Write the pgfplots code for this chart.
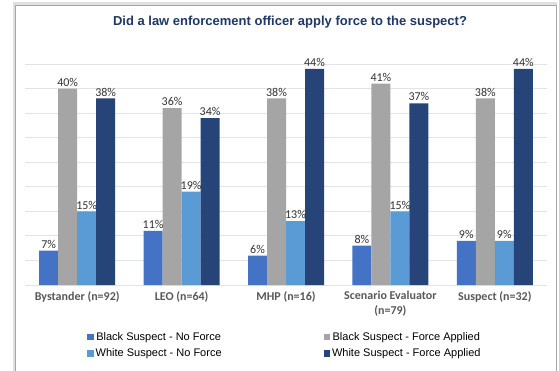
\documentclass[border=0pt]{standalone}
\usepackage{fontspec}
\setmainfont{Carlito}
\newfontfamily\arial{Liberation Sans}
\usepackage{pgfplots}
\pgfplotsset{compat=1.18}
\definecolor{cA}{HTML}{4472C4}
\definecolor{cB}{HTML}{A5A5A5}
\definecolor{cC}{HTML}{5B9BD5}
\definecolor{cD}{HTML}{264478}
\definecolor{titlec}{HTML}{1F3864}
\definecolor{tickc}{HTML}{595959}
\definecolor{gridc}{HTML}{E3E3E3}
\begin{document}
\begin{tikzpicture}[x=1pt,y=1pt]
\path[use as bounding box] (0,0) rectangle (559,370);
\fill[white] (0,0) rectangle (559,370);
\draw[black!12, line width=3pt] (14,-10) -- (14,366) -- (557,366);
\draw[black!35, line width=0.8pt] (15.5,-10) rectangle (556,364.5);
\node[font=\arial\bfseries\fontsize{13}{15}\selectfont, text=titlec] at (290,348) {Did a law enforcement officer apply force to the suspect?};
\begin{axis}[
  at={(25pt,85pt)}, anchor=south west,
  scale only axis, width=522pt, height=221pt,
  ybar=0pt, bar width=19pt,
  xmin=-0.5, xmax=4.5, ymin=0, ymax=45,
  xtick={0,1,2,3,4},
  xticklabels={Bystander (n=92),LEO (n=64),MHP (n=16),{Scenario Evaluator\\(n=79)},Suspect (n=32)},
  xticklabel style={font=\bfseries\fontsize{12}{15}\selectfont, text=tickc, align=center, yshift=-3pt},
  ytick={0,5,...,45}, yticklabels={},
  ymajorgrids, grid style={gridc, line width=0.8pt},
  axis line style={draw=none}, major tick length=0pt,
  /pgf/number format/assume math mode=true,
  nodes near coords={\pgfmathprintnumber{\pgfplotspointmeta}\%},
  nodes near coords style={font=\fontsize{12}{14}\selectfont, text=black!80, inner sep=2pt},
  legend columns=2,
  legend style={draw=none, fill=none, font=\arial\fontsize{11}{13}\selectfont,
    at={(0.498,-0.195)}, anchor=north, row sep=3pt,
    /tikz/every even column/.append style={column sep=100pt}},
  legend image code/.code={\fill[#1] (0pt,-3.2pt) rectangle (6.4pt,3.2pt);},
  clip=false,
]
\addplot[fill=cA, draw=none] coordinates {(0,7) (1,11) (2,6) (3,8) (4,9)};
\addplot[fill=cB, draw=none] coordinates {(0,40) (1,36) (2,38) (3,41) (4,38)};
\addplot[fill=cC, draw=none] coordinates {(0,15) (1,19) (2,13) (3,15) (4,9)};
\addplot[fill=cD, draw=none] coordinates {(0,38) (1,34) (2,44) (3,37) (4,44)};
\legend{Black Suspect - No Force, Black Suspect - Force Applied, White Suspect - No Force, White Suspect - Force Applied}
\end{axis}
\end{tikzpicture}
\end{document}
